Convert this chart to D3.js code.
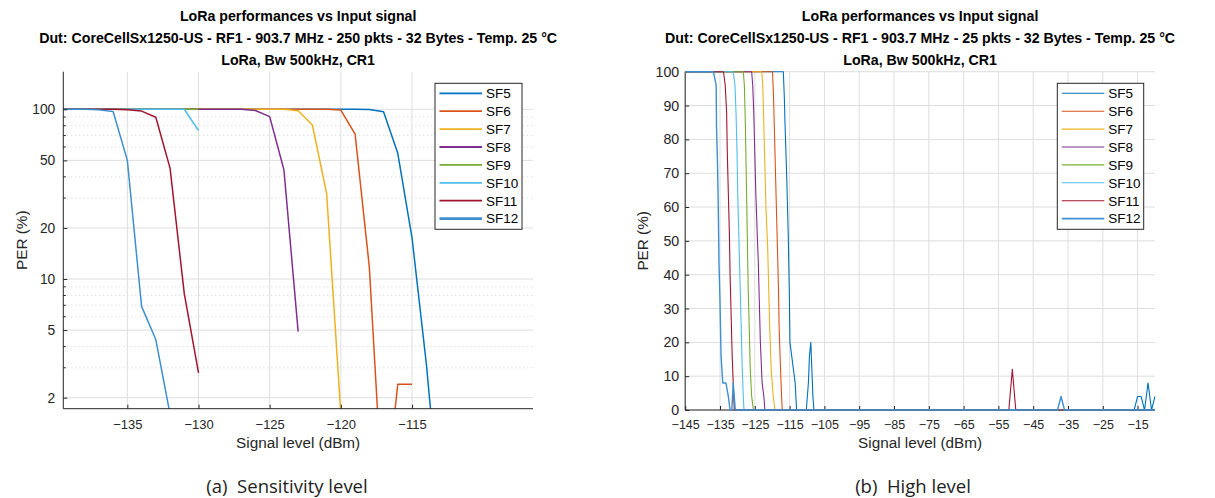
<!DOCTYPE html>
<html><head><meta charset="utf-8">
<script src="https://cdn.jsdelivr.net/npm/d3@7"></script>
<style>body{margin:0;background:#fff} svg{display:block}</style>
</head><body><svg id="c" width="1215" height="498"></svg>
<script>
// ---------------- data ----------------
const seriesNames = ["SF5","SF6","SF7","SF8","SF9","SF10","SF11","SF12"];
const seriesColors = ["#0072BD","#D95319","#EDB120","#7E2F8E","#77AC30","#4DBEEE","#A2142F","#3d8fd0"];
const titleA = ["LoRa performances vs Input signal",
  "Dut: CoreCellSx1250-US - RF1 - 903.7 MHz - 250 pkts - 32 Bytes - Temp. 25 °C",
  "LoRa, Bw 500kHz, CR1"];
const titleB = ["LoRa performances vs Input signal",
  "Dut: CoreCellSx1250-US - RF1 - 903.7 MHz - 25 pkts - 32 Bytes - Temp. 25 °C",
  "LoRa, Bw 500kHz, CR1"];
const xLabel = "Signal level (dBm)";
const yLabel = "PER (%)";
const captionA = "(a)  Sensitivity level";
const captionB = "(b)  High level";

// (a) sensitivity level, 250 pkts, log axis
const levelA = [-140,-139,-138,-137,-136,-135,-134,-133,-132,-131,-130,-129,-128,-127,-126,-125,-124,-123,-122,-121,-120,-119,-118,-117,-116,-115,-114,-113];
const perA_SF5  = [100,100,100,100,100,100,100,100,100,100,100,100,100,100,100,100,100,100,100,100,100,100,99.6,96.8,55,17.5,3.2,0.4];
const perA_SF6  = [100,100,100,100,100,100,100,100,100,100,100,100,100,100,100,100,100,100,100,100,99,71.5,11.8,0.4,2.4,2.4,0,0];
const perA_SF7  = [100,100,100,100,100,100,100,100,100,100,100,100,100,100,100,100,100,98,80.8,32,1.6,0,0,0,0,0,0,0];
const perA_SF8  = [100,100,100,100,100,100,100,100,100,100,100,100,100,100,98.4,90.5,44,4.9,0,0,0,0,0,0,0,0,0,0];
const perA_SF9  = [100,100,100,100,100,100,100,100,100,100,100,null,null,null,null,null,null,null,null,null,null,null,null,null,null,null,null,null];
const perA_SF10 = [100,100,100,100,100,100,100,100,100,100,75,null,null,null,null,null,null,null,null,null,null,null,null,null,null,null,null,null];
const perA_SF11 = [100,100,100,100,100,99.5,97.6,89.7,45,8.2,2.8,0,0,0,0,0,0,0,0,0,0,0,0,0,0,0,0,0];
const perA_SF12 = [100,100,100,99.2,97,50,6.9,4.4,1.6,0,0,0,0,0,0,0,0,0,0,0,0,0,0,0,0,0,0,0];
const ticksXA = [-135,-130,-125,-120,-115];
const ticksYA = [2,5,10,20,50,100];
const minorYA = [3,4,6,7,8,9,30,40,60,70,80,90];

// (b) high level, 25 pkts, linear axis: [level dBm, PER %] break points
const perB_SF5  = [[-145,100],[-116.8,100],[-116.5,92],[-116.3,84],[-115.8,68],[-115.4,52],[-115.1,36],[-114.9,20],[-114.4,16],[-113.9,12],[-113.4,8],[-113.0,0],[-110.2,0],[-109.6,8],[-109.3,16],[-108.9,20],[-108.6,12],[-108.3,4],[-108.0,0],[-16,0],[-15,4],[-14,4],[-13,0],[-12,8],[-11,0],[-10,4]];
const perB_SF6  = [[-145,100],[-119.9,100],[-119.6,92],[-119.3,80],[-119.0,68],[-118.7,56],[-118.5,48],[-118.2,36],[-118.0,24],[-117.6,12],[-117.3,4],[-117.1,0],[-10,0]];
const perB_SF7  = [[-145,100],[-123.0,100],[-122.7,96],[-122.4,84],[-122.1,72],[-121.8,60],[-121.3,48],[-121.0,36],[-120.7,24],[-120.3,12],[-119.7,4],[-119.2,0],[-10,0]];
const perB_SF8  = [[-145,100],[-125.9,100],[-125.6,96],[-125.3,88],[-125.0,76],[-124.7,64],[-124.3,52],[-124.0,44],[-123.7,32],[-123.4,20],[-122.9,8],[-122.4,4],[-122.1,0],[-10,0]];
const perB_SF9  = [[-145,100],[-128.3,100],[-128.0,96],[-127.7,84],[-127.5,72],[-127.3,60],[-127.1,48],[-126.9,36],[-126.6,24],[-126.3,12],[-125.9,4],[-125.4,0],[-10,0]];
const perB_SF10 = [[-145,100],[-131.2,100],[-130.7,96],[-130.4,88],[-130.1,76],[-129.9,64],[-129.5,48],[-129.2,36],[-128.9,24],[-128.6,12],[-128.3,4],[-128.1,0],[-10,0]];
const perB_SF11 = [[-145,100],[-134.0,100],[-133.5,96],[-133.1,88],[-132.9,76],[-132.6,64],[-132.3,52],[-132.1,40],[-131.8,28],[-131.5,16],[-131.2,8],[-130.9,0],[-52,0],[-51,12],[-50,0],[-10,0]];
const perB_SF12 = [[-145,100],[-136.9,100],[-136.1,96],[-136.0,84],[-135.7,72],[-135.5,60],[-135.3,44],[-135.0,32],[-134.7,16],[-134.2,8],[-133.3,8],[-132.6,4],[-132.1,0],[-131.6,0],[-131.2,8],[-130.6,0],[-38,0],[-37,4],[-36,0],[-10,0]];
const ticksXB = [-145,-135,-125,-115,-105,-95,-85,-75,-65,-55,-45,-35,-25,-15];
const ticksYB = [0,10,20,30,40,50,60,70,80,90,100];

// ---------------- drawing ----------------
const svg = d3.select("#c");
const FONT = "'Liberation Sans', Arial, sans-serif";
const AX = "#262626", GRID = "#dedede";

const seriesA = [perA_SF5,perA_SF6,perA_SF7,perA_SF8,perA_SF9,perA_SF10,perA_SF11,perA_SF12];
const seriesB = [perB_SF5,perB_SF6,perB_SF7,perB_SF8,perB_SF9,perB_SF10,perB_SF11,perB_SF12];

function titles(lines, cx) {
  lines.forEach((t, i) => svg.append("text").attr("x", cx).attr("y", 20.5 + i * 22)
    .attr("text-anchor", "middle").attr("font-family", FONT).attr("font-weight", "bold")
    .attr("font-size", 14.2).attr("fill", "#000").text(t));
}
function legend(x, y, w, lw) {
  const g = svg.append("g");
  g.append("rect").attr("x", x).attr("y", y).attr("width", w).attr("height", 146)
    .attr("fill", "#fff").attr("stroke", "#262626").attr("stroke-width", 1);
  seriesNames.forEach((n, i) => {
    const yy = y + 10 + i * 17.9;
    g.append("line").attr("x1", x + 4.5).attr("x2", x + 47).attr("y1", yy).attr("y2", yy)
      .attr("stroke", seriesColors[i]).attr("stroke-width", i === 7 ? lw + 0.8 : lw);
    g.append("text").attr("x", x + 51).attr("y", yy + 4.8).attr("font-family", FONT)
      .attr("font-size", 13.5).attr("fill", "#000").text(n);
  });
}

// ---- chart A ----
{
  const L = 63.3, R = 533, T = 71.7, B = 408.7;
  const x = d3.scaleLinear().domain([-139.5, -106.5]).range([L, R]);
  const y = d3.scaleLog().domain([1.722, 166.5]).range([B, T]);
  svg.append("clipPath").attr("id", "clipA").append("rect").attr("x", L).attr("y", T - 1).attr("width", R - L).attr("height", B - T + 1);
  svg.append("g").selectAll("line").data(minorYA).join("line")
    .attr("x1", L).attr("x2", R).attr("y1", d => y(d)).attr("y2", d => y(d))
    .attr("stroke", "#c8c8c8").attr("stroke-dasharray", "1,3").attr("stroke-width", 0.8);
  svg.append("g").selectAll("line").data(ticksYA).join("line")
    .attr("x1", L).attr("x2", R).attr("y1", d => y(d)).attr("y2", d => y(d)).attr("stroke", GRID);
  svg.append("g").selectAll("line").data(ticksXA).join("line")
    .attr("x1", d => x(d)).attr("x2", d => x(d)).attr("y1", T).attr("y2", B).attr("stroke", GRID);
  const line = d3.line().defined(d => d[1] != null && d[1] > 0).x(d => x(d[0])).y(d => y(d[1]));
  const g = svg.append("g").attr("clip-path", "url(#clipA)");
  seriesA.forEach((s, i) => {
    g.append("path").datum(levelA.map((lv, k) => [lv, s[k]])).attr("d", line)
      .attr("fill", "none").attr("stroke", seriesColors[i]).attr("stroke-width", 1.5).attr("stroke-linejoin", "round");
  });
  const ax = svg.append("g").attr("transform", `translate(0,${B})`)
    .call(d3.axisBottom(x).tickValues(ticksXA).tickSizeInner(-4).tickSizeOuter(0).tickPadding(11).tickFormat(d3.format("d")));
  const ay = svg.append("g").attr("transform", `translate(${L},0)`)
    .call(d3.axisLeft(y).tickValues(ticksYA).tickSizeInner(-4).tickSizeOuter(0).tickPadding(8).tickFormat(d3.format("d")));
  svg.append("g").selectAll("line").data(minorYA).join("line")
    .attr("x1", L).attr("x2", L + 2.5).attr("y1", d => y(d)).attr("y2", d => y(d)).attr("stroke", AX);
  [ax, ay].forEach(a => {
    a.select(".domain").attr("stroke", AX);
    a.selectAll(".tick line").attr("stroke", AX);
    a.selectAll("text").attr("font-family", FONT).attr("font-size", 13.8).attr("fill", AX);
  });
  ax.selectAll("text").attr("font-size", 13);
  ax.select(".domain").attr("d", `M${L},0H${R}`);
  ay.select(".domain").attr("d", `M0,${T}V${B}`);
  svg.append("text").attr("x", (L + R) / 2).attr("y", 447.5).attr("text-anchor", "middle")
    .attr("font-family", FONT).attr("font-size", 15.3).attr("fill", AX).text(xLabel);
  svg.append("text").attr("transform", `translate(27,${(T + B) / 2}) rotate(-90)`).attr("text-anchor", "middle")
    .attr("font-family", FONT).attr("font-size", 15.3).attr("fill", AX).text(yLabel);
  titles(titleA, (L + R) / 2);
  legend(435, 83.3, 87, 1.8);
}

// ---- chart B ----
{
  const L = 685.2, R = 1155, T = 71.7, B = 410;
  const x = d3.scaleLinear().domain([-145, -10]).range([L, R]);
  const y = d3.scaleLinear().domain([0, 100]).range([B, T]);
  svg.append("clipPath").attr("id", "clipB").append("rect").attr("x", L).attr("y", T - 1).attr("width", R - L + 1).attr("height", B - T + 2);
  svg.append("g").selectAll("line").data(ticksYB).join("line")
    .attr("x1", L).attr("x2", R).attr("y1", d => y(d)).attr("y2", d => y(d)).attr("stroke", GRID);
  svg.append("g").selectAll("line").data(ticksXB).join("line")
    .attr("x1", d => x(d)).attr("x2", d => x(d)).attr("y1", T).attr("y2", B).attr("stroke", GRID);
  const ax = svg.append("g").attr("transform", `translate(0,${B})`)
    .call(d3.axisBottom(x).tickValues(ticksXB).tickSizeInner(-4).tickSizeOuter(0).tickPadding(10).tickFormat(d3.format("d")));
  const ay = svg.append("g").attr("transform", `translate(${L},0)`)
    .call(d3.axisLeft(y).tickValues(ticksYB).tickSizeInner(-4).tickSizeOuter(0).tickPadding(6).tickFormat(d3.format("d")));
  [ax, ay].forEach(a => {
    a.select(".domain").attr("stroke", AX);
    a.selectAll(".tick line").attr("stroke", AX);
    a.selectAll("text").attr("font-family", FONT).attr("font-size", 14.2).attr("fill", AX);
  });
  ax.selectAll("text").attr("font-size", 12.5);
  ax.select(".domain").attr("d", `M${L},0H${R}`);
  ay.select(".domain").attr("d", `M0,${T}V${B}`);
  const line = d3.line().x(d => x(d[0])).y(d => y(d[1]));
  const g = svg.append("g").attr("clip-path", "url(#clipB)");
  seriesB.forEach((s, i) => {
    g.append("path").datum(s).attr("d", line)
      .attr("fill", "none").attr("stroke", seriesColors[i]).attr("stroke-width", i === 7 ? 1.4 : 1.1).attr("stroke-linejoin", "round");
  });
  svg.append("text").attr("x", (L + R) / 2).attr("y", 447.5).attr("text-anchor", "middle")
    .attr("font-family", FONT).attr("font-size", 15.3).attr("fill", AX).text(xLabel);
  svg.append("text").attr("transform", `translate(648,${(T + B) / 2}) rotate(-90)`).attr("text-anchor", "middle")
    .attr("font-family", FONT).attr("font-size", 15.3).attr("fill", AX).text(yLabel);
  titles(titleB, (L + R) / 2);
  legend(1057.3, 83.3, 86.4, 1.1);
}

// captions
[[captionA, 287], [captionB, 913]].forEach(([t, cx]) => {
  svg.append("text").attr("x", cx).attr("y", 493).attr("text-anchor", "middle")
    .style("white-space", "pre")
    .attr("font-family", "'Open Sans', 'Noto Sans', sans-serif").attr("font-size", 18.5).attr("fill", "#222").text(t);
});
</script></body></html>
